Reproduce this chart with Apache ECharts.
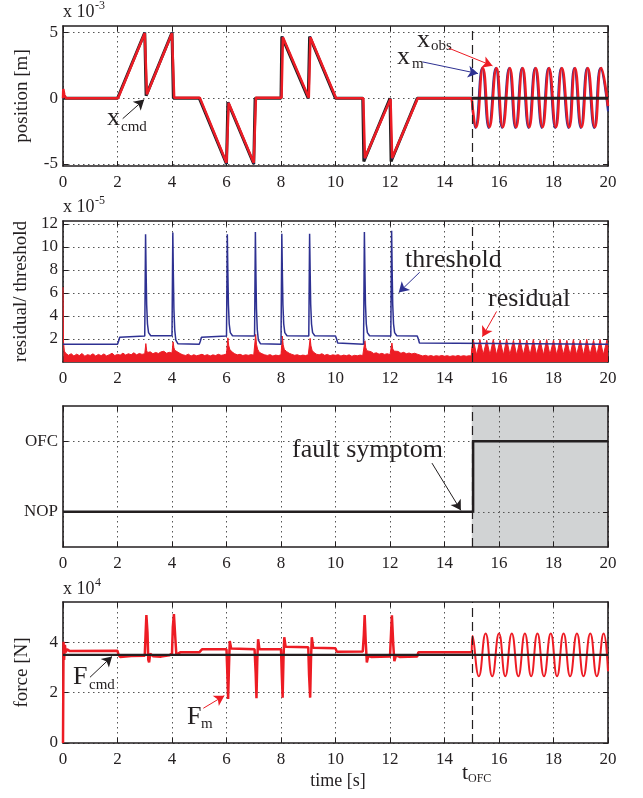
<!DOCTYPE html>
<html><head><meta charset="utf-8">
<script src="https://cdn.jsdelivr.net/npm/echarts@6/dist/echarts.min.js"></script>
<style>html,body{margin:0;padding:0;background:#fff}#c{width:643px;height:798px}</style>
</head><body><div id="c"></div>
<script>
const FONT = '"Liberation Serif","Times New Roman",serif';
const RED = '#ED1C24', BLUE = '#2E3192', BLACK = '#231F20', GRAY = '#D1D3D4';

// ---------- data ----------
const tFault = 15;
const timeRange = [0, 20];

// panel 1: position (x 1e-3 m)
const posTicks = [-5, 0, 5];
const xCmd = [[0,0],[2,0],[3,5],[3.05,0.2],[4,5],[4.05,0],[5,0],[6,-5],[6.05,-0.3],[7,-5],[7.05,0],[8,0],[8.03,4.7],[9,0],[9.05,4.7],[10,0],[11,0],[11.04,-4.8],[12,0],[12.04,-4.8],[13,0],[15,0]];
const xCmdAfter = [[15,0],[20,0]];
const xObs = [[0,0],[0.01,0.7],[0.05,0.25],[0.12,0],[2.02,0],[3.0,4.95],[3.08,0.3],[4.0,4.95],[4.08,0.05],[5.02,0.05],[6.0,-4.9],[6.08,-0.35],[7.0,-4.9],[7.08,0.05],[8.02,0.05],[8.07,4.65],[9.02,0.05],[9.08,4.65],[10.02,0.02],[11.02,0],[11.08,-4.55],[12.02,-0.05],[12.08,-4.55],[13.02,0],[15,0]];
const xObsOsc = [[15,0],[15.16,-2.2],[15.41,2.3],[15.65,-2.2],[15.91,2.3],[16.14,-2.2],[16.4,2.3],[16.63,-2.2],[16.87,2.3],[17.11,-2.2],[17.35,2.3],[17.6,-2.2],[17.84,2.3],[18.09,-2.2],[18.31,2.3],[18.58,-2.2],[18.79,2.3],[19.03,-2.2],[19.26,2.3],[19.52,-2.2],[19.75,2.3],[20,-0.6]];
const xM = [[0,0],[0.02,0.4],[0.1,0],[2.01,0],[3.0,4.98],[3.07,0.28],[4.0,4.98],[4.07,0.03],[5.01,0.02],[6.0,-4.95],[6.07,-0.33],[7.0,-4.95],[7.07,0.03],[8.01,0.03],[8.06,4.68],[9.01,0.03],[9.07,4.68],[10.01,0.01],[11.01,0],[11.07,-4.62],[12.01,-0.03],[12.07,-4.62],[13.01,0],[15,0]];
const xMOsc = [[15,0],[15.13,-2.25],[15.38,2.3],[15.62,-2.25],[15.88,2.3],[16.11,-2.25],[16.37,2.3],[16.6,-2.25],[16.84,2.3],[17.08,-2.25],[17.32,2.3],[17.57,-2.25],[17.81,2.3],[18.06,-2.25],[18.28,2.3],[18.55,-2.25],[18.76,2.3],[19.0,-2.25],[19.23,2.3],[19.49,-2.25],[19.72,2.3],[20,-1.0]];

// panel 2: residual / threshold (x 1e-5)
const resTicks = [2, 4, 6, 8, 10, 12];
const threshold = [
[0,1.55],[2.0,1.55],[2.04,1.8],[2.08,2.15],[2.13,2.25],
[3.0,2.25],[3.03,11.1],[3.05,7.8],[3.07,5.0],[3.1,3.3],[3.14,2.55],[3.22,2.28],
[4.0,2.27],[4.03,11.25],[4.05,7.6],[4.07,4.6],[4.1,2.8],[4.14,1.9],[4.22,1.58],
[5.0,1.55],[5.04,1.8],[5.08,2.15],[5.13,2.25],
[6.0,2.25],[6.03,11.1],[6.05,7.8],[6.07,5.0],[6.1,3.3],[6.14,2.55],[6.22,2.28],
[7.03,2.26],[7.06,11.3],[7.08,7.6],[7.1,4.6],[7.13,2.8],[7.17,1.9],[7.25,1.58],
[8.0,1.55],[8.03,11.15],[8.05,7.8],[8.07,5.0],[8.1,3.3],[8.14,2.55],[8.22,2.28],
[9.02,2.26],[9.05,11.15],[9.07,7.8],[9.09,5.0],[9.12,3.3],[9.16,2.55],[9.24,2.28],
[10.0,2.25],[10.04,2.0],[10.08,1.65],[10.13,1.55],
[11.03,1.55],[11.06,11.3],[11.08,7.8],[11.1,5.0],[11.13,3.3],[11.17,2.55],[11.25,2.28],
[12.03,2.26],[12.06,11.4],[12.08,7.8],[12.1,5.0],[12.13,3.3],[12.17,2.55],[12.25,2.28],
[13.0,2.25],[13.04,2.0],[13.08,1.65],[13.13,1.55],
[20,1.55]];
const residual = [
[0,6.5],[0.02,1.7],[0.05,0.95],[0.1,0.75],[0.2,0.58],[0.3,0.72],[0.4,0.52],[0.5,0.68],[0.6,0.56],[0.7,0.74],[0.8,0.5],[0.9,0.64],[1.0,0.57],[1.1,0.71],[1.2,0.52],[1.3,0.66],[1.4,0.55],[1.5,0.7],[1.6,0.53],[1.7,0.63],[1.8,0.76],[1.9,0.56],[2.0,0.66],
[2.1,0.6],[2.2,0.77],[2.3,0.6],[2.4,0.72],[2.5,0.63],[2.6,0.8],[2.7,0.62],[2.8,0.74],[2.9,0.66],[3.0,0.72],
[3.04,1.6],[3.07,1.0],[3.1,0.82],[3.2,0.88],[3.3,0.72],[3.4,0.83],[3.5,0.74],[3.6,0.88],[3.7,0.93],[3.8,0.76],[3.9,0.84],[4.0,0.78],
[4.04,1.75],[4.07,1.25],[4.1,1.02],[4.2,0.88],[4.3,0.73],[4.4,0.62],[4.5,0.57],[4.6,0.68],[4.7,0.52],[4.8,0.63],[4.9,0.54],[5.0,0.6],[5.1,0.67],[5.2,0.56],[5.3,0.64],[5.4,0.52],[5.5,0.62],[5.6,0.56],[5.7,0.67],[5.8,0.58],[5.9,0.62],[6.0,0.7],
[6.05,2.1],[6.08,1.45],[6.12,1.1],[6.2,0.88],[6.3,0.72],[6.4,0.62],[6.5,0.67],[6.6,0.56],[6.7,0.63],[6.8,0.58],[6.9,0.64],[7.0,0.6],
[7.07,2.4],[7.1,1.55],[7.14,1.12],[7.2,0.85],[7.3,0.72],[7.4,0.62],[7.5,0.57],[7.6,0.64],[7.7,0.52],[7.8,0.6],[7.9,0.56],[8.0,0.62],
[8.05,2.25],[8.08,1.5],[8.12,1.1],[8.2,0.92],[8.3,0.76],[8.4,0.66],[8.5,0.58],[8.6,0.63],[8.7,0.54],[8.8,0.6],[8.9,0.56],[9.0,0.62],
[9.07,2.05],[9.1,1.4],[9.14,1.02],[9.2,0.84],[9.3,0.68],[9.4,0.62],[9.5,0.72],[9.6,0.58],[9.7,0.66],[9.8,0.55],[9.9,0.62],[10.0,0.58],[10.1,0.64],[10.2,0.52],[10.3,0.6],[10.4,0.55],[10.5,0.62],[10.6,0.5],[10.7,0.58],[10.8,0.54],[10.9,0.6],[11.0,0.56],
[11.08,1.85],[11.11,1.25],[11.15,0.98],[11.2,0.82],[11.3,0.9],[11.4,0.74],[11.5,0.8],[11.6,0.68],[11.7,0.75],[11.8,0.66],[11.9,0.72],[12.0,0.64],
[12.07,1.65],[12.1,1.15],[12.14,0.95],[12.2,0.86],[12.3,0.92],[12.4,0.76],[12.5,0.84],[12.6,0.72],[12.7,0.78],[12.8,0.7],[12.9,0.76],[13.0,0.68],[13.1,0.6],[13.2,0.52],[13.3,0.58],[13.4,0.5],[13.5,0.56],[13.6,0.49],[13.7,0.55],[13.8,0.5],[13.9,0.57],[14.0,0.5],[14.1,0.55],[14.2,0.48],[14.3,0.54],[14.4,0.5],[14.5,0.56],[14.6,0.49],[14.7,0.55],[14.8,0.5],[14.9,0.54],[14.98,0.52],
[15.0,1.2],[15.06,1.9],[15.18,0.6],[15.3,1.95],[15.42,0.65],[15.55,1.88],[15.67,0.6],[15.79,1.96],[15.91,0.62],[16.04,1.9],[16.16,0.6],[16.28,1.97],[16.4,0.64],[16.53,1.88],[16.65,0.6],[16.77,1.95],[16.89,0.62],[17.02,1.9],[17.14,0.6],[17.26,1.96],[17.38,0.63],[17.51,1.88],[17.63,0.6],[17.75,1.95],[17.87,0.62],[18.0,1.9],[18.12,0.6],[18.24,1.96],[18.36,0.64],[18.49,1.88],[18.61,0.6],[18.73,1.95],[18.85,0.62],[18.98,1.9],[19.1,0.6],[19.22,1.97],[19.34,0.63],[19.47,1.88],[19.59,0.6],[19.71,1.95],[19.83,0.62],[19.96,1.9],[20,1.2]];

// panel 3: mode
const modeLabels = ['NOP', 'OFC'];
const modeTicks = [0, 1];
const mode = [[0,0],[15.05,0],[15.05,1],[20,1]];
const ofcBand = [[15,1.5],[20,1.5]];

// panel 4: force (x 1e4 N)
const forceTicks = [0, 2, 4];
const fCmd = [[0,3.5],[20,3.5]];
const fM = [[0,0],[0.02,4.02],[0.04,3.3],[0.07,3.9],[0.1,3.6],[0.15,3.72],[0.25,3.65],[2.0,3.66],[2.04,3.5],[2.1,3.42],[2.5,3.46],[3.0,3.47],[3.03,4.3],[3.06,5.08],[3.1,4.4],[3.13,3.3],[3.16,3.2],[3.2,3.55],[3.3,3.45],[3.6,3.43],[3.9,3.48],[4.0,3.55],[4.03,4.6],[4.07,5.12],[4.12,4.2],[4.16,3.5],[4.3,3.6],[5.0,3.6],[5.1,3.72],[6.0,3.72],[6.03,2.8],[6.06,1.75],[6.09,3.0],[6.12,4.05],[6.17,3.75],[7.03,3.72],[7.07,2.8],[7.1,1.78],[7.13,3.3],[7.16,4.12],[7.21,3.72],[8.0,3.72],[8.03,2.7],[8.06,1.8],[8.09,3.3],[8.12,4.2],[8.17,3.82],[9.0,3.8],[9.03,2.7],[9.07,1.8],[9.1,3.3],[9.13,4.2],[9.18,3.78],[10.0,3.76],[10.05,3.62],[11.0,3.63],[11.04,4.3],[11.07,5.08],[11.11,4.0],[11.15,3.2],[11.2,3.45],[11.3,3.42],[12.0,3.44],[12.04,4.4],[12.07,5.07],[12.12,3.9],[12.16,3.25],[12.22,3.48],[12.35,3.42],[13.0,3.44],[13.04,3.6],[15.0,3.6]];
const fMOsc = [[15,3.6],[15.03,4.25],[15.26,2.65],[15.51,4.35],[15.75,2.65],[16.0,4.35],[16.23,2.65],[16.47,4.35],[16.71,2.65],[16.95,4.35],[17.18,2.65],[17.41,4.35],[17.65,2.65],[17.9,4.35],[18.13,2.65],[18.37,4.35],[18.61,2.65],[18.86,4.35],[19.1,2.65],[19.35,4.35],[19.59,2.65],[19.84,4.35],[20,2.85]];

// annotation arrows (data coordinates)
const arrowXcmd = [[2.19,-1.55],[2.98,-0.1]];
const arrowXobs = [[14.15,3.82],[15.76,2.47]];
const arrowXm = [[13.19,2.77],[15.23,1.88]];
const arrowThr = [[13.09,7.8],[12.32,6.03]];
const arrowRes = [[15.91,4.39],[15.39,2.2]];
const arrowFault = [[13.54,0.69],[14.6,0.02]];
const arrowFcmd = [[0.99,2.61],[1.8,3.44]];
const arrowFm = [[5.15,1.38],[5.92,1.88]];

// ---------- layout ----------
const grids = [
  {left:63, right:35, top:26, height:140},
  {left:63, right:35, top:221, height:141},
  {left:63, right:35, top:406, height:141},
  {left:63, right:35, top:602, height:141}
];
const yCfg = [
  {min:-5.15, max:5.5, ticks:posTicks, name:'position [m]'},
  {min:0, max:12.25, ticks:resTicks, name:'residual/ threshold'},
  {min:-0.5, max:1.5, ticks:modeTicks, name:'', fmt: v => modeLabels[Math.round(v)]},
  {min:0, max:5.6, ticks:forceTicks, name:'force [N]'}
];
const axisLine = {show:true, onZero:false, lineStyle:{color:BLACK, width:1.6}};
const tick = {show:true, inside:true, length:5, lineStyle:{color:BLACK, width:1}};
const grid = {show:true, lineStyle:{color:'#555', type:[1.5,3.5], width:1}};
const lbl = {color:BLACK, fontFamily:FONT, fontSize:17};

const xAxes = [], yAxes = [];
grids.forEach((g, i) => {
  xAxes.push({type:'value', gridIndex:i, min:timeRange[0], max:timeRange[1], interval:2, position:'bottom',
    axisLine, axisTick:tick, splitLine:grid, axisLabel:{...lbl, margin:8}});
  xAxes.push({type:'value', gridIndex:i, min:timeRange[0], max:timeRange[1], interval:2, position:'top',
    axisLine, axisTick:tick, splitLine:{show:false}, axisLabel:{show:false}});
  const c = yCfg[i];
  yAxes.push({type:'value', gridIndex:i, min:c.min, max:c.max, position:'left',
    axisLine, axisTick:{...tick, customValues:c.ticks}, splitLine:grid,
    axisLabel:{...lbl, margin:5, customValues:c.ticks, formatter: c.fmt || (v => String(v))},
    name:c.name, nameLocation:'middle', nameGap:31, nameTextStyle:{color:BLACK, fontFamily:FONT, fontSize:19}});
  yAxes.push({type:'value', gridIndex:i, min:c.min, max:c.max, position:'right',
    axisLine, axisTick:{...tick, customValues:c.ticks}, splitLine:{show:false}, axisLabel:{show:false}});
});

function line(i, data, color, width, extra) {
  return Object.assign({type:'line', xAxisIndex:2*i, yAxisIndex:2*i, data, showSymbol:false, symbol:'none',
    lineStyle:{color, width}, itemStyle:{color}, silent:true, animation:false}, extra || {});
}
function faultLine() {
  return {silent:true, symbol:'none', animation:false, label:{show:false},
    lineStyle:{type:[9,5], color:BLACK, width:1.2}, data:[{xAxis:tFault}]};
}
function arrows(list) {
  return {silent:true, symbol:['none','arrow'], symbolSize:[9,10], animation:false, label:{show:false},
    data: list.map(a => [{coord:a.p[0], lineStyle:{color:a.c, width:1, type:'solid'}, itemStyle:{color:a.c}}, {coord:a.p[1], itemStyle:{color:a.c}}])};
}

const series = [
  // panel 1
  line(0, xCmd, BLACK, 3),
  line(0, xM, BLUE, 1.5),
  line(0, xMOsc, BLUE, 2, {smooth:true}),
  line(0, xObs, RED, 2.5),
  line(0, xObsOsc, RED, 2.5, {smooth:true}),
  line(0, xCmdAfter, BLACK, 3, {markLine: faultLine()}),
  line(0, [], BLACK, 1, {markLine: arrows([{p:arrowXcmd,c:BLACK},{p:arrowXobs,c:RED},{p:arrowXm,c:BLUE}])}),
  // panel 2
  line(1, residual, RED, 1, {areaStyle:{color:RED, opacity:1}}),
  line(1, threshold, BLUE, 1.5, {markLine: faultLine()}),
  line(1, [], BLACK, 1, {markLine: arrows([{p:arrowThr,c:BLUE},{p:arrowRes,c:RED}])}),
  // panel 3
  line(2, ofcBand, GRAY, 0, {z:-1, areaStyle:{color:GRAY, opacity:1, origin:'start'}}),
  line(2, mode, BLACK, 2.5, {markLine: faultLine()}),
  line(2, [], BLACK, 1, {markLine: arrows([{p:arrowFault,c:BLACK}])}),
  // panel 4
  line(3, fM, RED, 2.5),
  line(3, fMOsc, RED, 2, {smooth:true}),
  line(3, fCmd, BLACK, 2.2, {markLine: faultLine()}),
  line(3, [], BLACK, 1, {markLine: arrows([{p:arrowFcmd,c:BLACK},{p:arrowFm,c:RED}])})
];

function txt(str, left, baseline, size, align) {
  return {type:'text', x:left, y:baseline - 0.32*size, silent:true,
    style:{text:str, font:size + 'px ' + FONT, fill:BLACK, textAlign:align || 'left', textVerticalAlign:'middle'}};
}
const graphic = [
  txt('x 10', 63, 18, 18), txt('-3', 95, 10, 12),
  txt('x 10', 63, 213, 18), txt('-5', 95, 205, 12),
  txt('x 10', 63, 595, 18), txt('4', 95, 587, 12),
  txt('x', 107, 126, 26), txt('cmd', 121, 132, 15),
  txt('x', 417, 48, 26), txt('obs', 431, 51, 15),
  txt('x', 397, 65, 26), txt('m', 412, 69, 15),
  txt('threshold', 405, 268, 26),
  txt('residual', 488, 307, 26),
  txt('fault symptom', 292, 458, 26),
  txt('F', 73, 685, 26), txt('cmd', 89, 690, 15),
  txt('F', 187, 725, 26), txt('m', 201, 729, 15),
  txt('t', 462, 780, 22), txt('OFC', 468, 783, 12),
  txt('time [s]', 338, 787, 18, 'center')
];

const chart = echarts.init(document.getElementById('c'), null, {renderer:'canvas'});
chart.setOption({
  animation:false, backgroundColor:'#fff',
  textStyle:{fontFamily:FONT},
  grid:grids, xAxis:xAxes, yAxis:yAxes, series, graphic
});
</script></body></html>
